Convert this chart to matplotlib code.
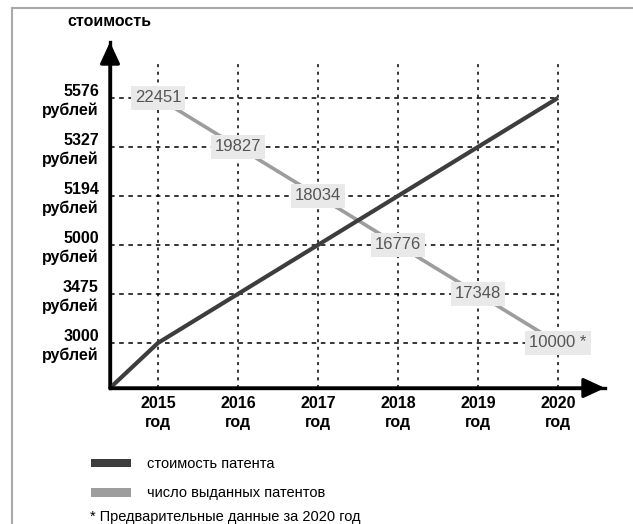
import matplotlib.pyplot as plt
from matplotlib.patches import Patch
from matplotlib.lines import Line2D

# ---------- data ----------
years = [2015, 2016, 2017, 2018, 2019, 2020]
cost = [3000, 3475, 5000, 5194, 5327, 5576]          # стоимость патента, руб.
patents = [22451, 19827, 18034, 16776, 17348, 10000]  # число выданных патентов
patent_notes = ["", "", "", "", "", " *"]

plt.rcParams["font.family"] = ["Liberation Sans", "DejaVu Sans"]

dark = "#3d3d3d"
light = "#9d9d9d"

W, H = 633, 524
fig = plt.figure(figsize=(W / 100, H / 100), dpi=100)
# axes corner at (110, 388) px, arrows reach 605 px (x) and 42 px (y)
ax = fig.add_axes([110 / W, 1 - 388 / H, 495 / W, 346 / H])

levels = list(range(1, len(cost) + 1))
x0 = years[0] - 0.6
y0 = 0.08
ax.set_xlim(x0, x0 + 495 / 80)
ax.set_ylim(y0, y0 + 346 / 49)

# ---------- grid ----------
ax.hlines(levels, x0, years[-1], colors="k", linestyles=(0, (3, 3)), lw=1.1, zorder=1)
ax.vlines(years, y0, 6.73, colors="k", linestyles=(0, (2, 3)), lw=1.1, zorder=1)

# ---------- lines ----------
ax.plot([x0] + years, [y0] + levels, color=dark, lw=3, solid_capstyle="butt", zorder=3)
ax.plot(years, levels[::-1], color=light, lw=2.6, zorder=2)
for x, y, v, n in zip(years, levels[::-1], patents, patent_notes):
    ax.text(x, y, f"{v}{n}", ha="center", va="center", fontsize=12, color="#555555",
            bbox=dict(boxstyle="square,pad=0.25", fc="#e9e9e9", ec="none"), zorder=4)

# ---------- axes with arrows ----------
for side in ["top", "right"]:
    ax.spines[side].set_visible(False)
for side in ["left", "bottom"]:
    ax.spines[side].set_linewidth(2.4)
arrow = dict(arrowstyle="-|>,head_length=0.65,head_width=0.3", lw=2.4, color="k",
             mutation_scale=20, shrinkA=0, shrinkB=0)
ax.annotate("", xy=(0, 1), xytext=(0, 0), xycoords="axes fraction", arrowprops=arrow)
ax.annotate("", xy=(1, 0), xytext=(0, 0), xycoords="axes fraction", arrowprops=arrow)

ax.set_xticks(years, labels=[f"{y}\nгод" for y in years])
ax.set_yticks(levels, labels=[f"{c}\nрублей" for c in cost])
ax.tick_params(length=0)
ax.tick_params(axis="x", pad=6)
ax.tick_params(axis="y", pad=8)
for lab in ax.get_xticklabels() + ax.get_yticklabels():
    lab.set_fontweight("bold")
    lab.set_fontsize(11.5)
    lab.set_linespacing(1.3)

# ---------- frame, title, legend ----------
fig.add_artist(Line2D([12 / W, 12 / W], [0, 1 - 8 / H], color="#aaaaaa", lw=1.5))
fig.add_artist(Line2D([12 / W, 1], [1 - 8 / H, 1 - 8 / H], color="#aaaaaa", lw=1.5))
fig.text(67 / W, 1 - 22 / H, "стоимость", fontsize=11.5, fontweight="bold", va="center")

fig.legend(handles=[Patch(fc=dark), Patch(fc=light)],
           labels=["стоимость патента", "число выданных патентов"],
           loc="upper left", bbox_to_anchor=(78 / W, 1 - 444 / H), frameon=False,
           fontsize=10.5, handlelength=2.7, handleheight=0.55, handletextpad=1.1,
           labelspacing=1.05)
fig.text(90 / W, 1 - 517 / H, "* Предварительные данные за 2020 год", fontsize=10.5, va="center")

fig.savefig("out.png", dpi=100)
